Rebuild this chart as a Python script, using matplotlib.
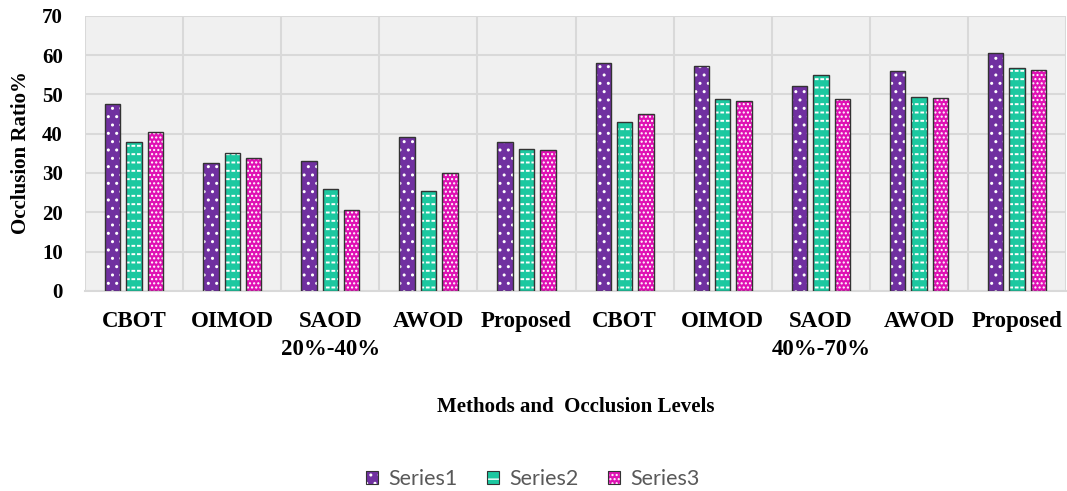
import numpy as np
import matplotlib
matplotlib.use("Agg")
import matplotlib.pyplot as plt
from matplotlib.patches import Patch
from matplotlib.legend_handler import HandlerTuple
from matplotlib.transforms import blended_transform_factory

# Data
methods = ["CBOT", "OIMOD", "SAOD", "AWOD", "Proposed",
           "CBOT", "OIMOD", "SAOD", "AWOD", "Proposed"]
levels = ["20%-40%", "40%-70%"]
series1 = [47.6, 32.5, 33.1, 39.2, 37.8, 58.0, 57.3, 52.1, 56.0, 60.6]
series2 = [37.9, 35.1, 25.9, 25.3, 36.2, 43.0, 48.9, 55.0, 49.4, 56.8]
series3 = [40.5, 33.7, 20.6, 30.0, 35.9, 45.1, 48.4, 48.7, 49.0, 56.2]
series_names = ["Series1", "Series2", "Series3"]

colors = ["#7030A0", "#1CC8A0", "#E010B4"]
hatches = ["..", "--", "...."]
hatch_lw = [1.0, 1.4, 1.0]

fig = plt.figure(figsize=(10.67, 4.91), dpi=100)
ax = fig.add_axes([0.0797, 0.4075, 0.9195, 0.5605])
ax.set_facecolor("#F0F0F0")

x = np.arange(len(methods))
width = 0.157
step = 0.218
handles = []
for i, (vals, name) in enumerate(zip([series1, series2, series3], series_names)):
    pos = x + (i - 1) * step
    plt.rcParams["hatch.linewidth"] = hatch_lw[i]
    # filled bars with white hatch
    ax.bar(pos, vals, width, color=colors[i], edgecolor="white",
           linewidth=0, hatch=hatches[i], zorder=3)
    if i == 1:
        # break the white lines into short dashes
        plt.rcParams["hatch.linewidth"] = 1.3
        ax.bar(pos, vals, width, fill=False, edgecolor=colors[i],
               linewidth=0, hatch="|||", zorder=3.5)
    # outline on top
    ax.bar(pos, vals, width, fill=False, edgecolor="#333333",
           linewidth=1.0, zorder=4)
    plt.rcParams["hatch.linewidth"] = hatch_lw[i]
    fill_patch = Patch(facecolor=colors[i], edgecolor="white",
                       hatch=hatches[i], linewidth=0)
    edge_patch = Patch(fill=False, edgecolor="#333333", linewidth=0.8)
    handles.append((fill_patch, edge_patch))

ax.set_xlim(-0.5, len(methods) - 0.5)
ax.set_ylim(0, 70)
ax.set_yticks(range(0, 71, 10))
ax.set_xticks(np.arange(-0.5, len(methods), 1))
ax.set_xticklabels([])
ax.grid(True, color="#D9D9D9", linewidth=1.5, zorder=0)
ax.tick_params(axis="both", length=0)
for s in ax.spines.values():
    s.set_visible(False)
ax.spines["bottom"].set_visible(True)
ax.spines["bottom"].set_color("#D9D9D9")
ax.spines["bottom"].set_linewidth(1.5)

for lab in ax.get_yticklabels():
    lab.set_fontfamily("Liberation Serif")
    lab.set_fontweight("bold")
    lab.set_fontsize(15)
ax.tick_params(axis="y", pad=16)

trans = blended_transform_factory(ax.transData, fig.transFigure)
for xi, m in zip(x, methods):
    ax.text(xi, 1 - 327 / 491, m, transform=trans, ha="center", va="baseline",
            fontfamily="Liberation Serif", fontweight="bold", fontsize=16.5)
for gi, lv in enumerate(levels):
    ax.text(2 + 5 * gi, 1 - 355 / 491, lv, transform=trans, ha="center",
            va="baseline", fontfamily="Liberation Serif", fontweight="bold",
            fontsize=16.5)

fig.text(0.5396, 1 - 412 / 491, "Methods and  Occlusion Levels", ha="center",
         va="baseline", fontfamily="Liberation Serif", fontweight="bold",
         fontsize=15)
fig.text(21 / 1067, 1 - 153 / 491, "Occlusion Ratio%", rotation=90,
         ha="center", va="center", fontfamily="Liberation Serif",
         fontweight="bold", fontsize=15)

leg = fig.legend(handles=handles, labels=series_names, loc="center", ncol=3,
                 bbox_to_anchor=(533 / 1067, 1 - 479 / 491), frameon=False,
                 handler_map={tuple: HandlerTuple(ndivide=1, pad=0)},
                 handlelength=0.55, handleheight=0.55, handletextpad=0.5,
                 columnspacing=1.35, prop={"family": "Lato", "size": 15.5})
for t in leg.get_texts():
    t.set_color("#595959")

fig.savefig("out.png", dpi=100)
